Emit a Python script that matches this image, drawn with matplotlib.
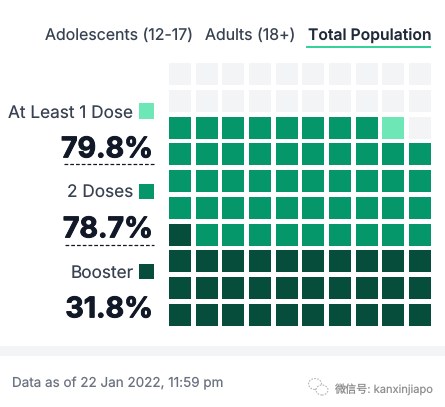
import matplotlib
matplotlib.use("Agg")
import matplotlib.pyplot as plt
import matplotlib.patheffects as pe
from matplotlib.patches import Rectangle, Ellipse

W, H = 445, 407
tabs = ["Adolescents (12-17)", "Adults (18+)", "Total Population"]
labels = ["At Least 1 Dose", "2 Doses", "Booster"]
values = [79.8, 78.7, 31.8]
colors = ["#6ee7b7", "#059669", "#064e3b"]
footer = "Data as of 22 Jan 2022, 11:59 pm"
watermark = "微信号: kanxinjiapo"
EMPTY = "#f3f4f6"
INK = "#374151"
DARK = "#111827"

plt.rcParams["font.family"] = ["Inter", "Noto Sans CJK SC", "DejaVu Sans"]
plt.rcParams["text.hinting"] = "no_hinting"
fig = plt.figure(figsize=(W / 100, H / 100), dpi=100)
fig.patch.set_facecolor("white")

def fx(x): return x / W
def fy(y): return 1 - y / H

def px_axes(l, t, r, b):
    return fig.add_axes([fx(l), fy(b), (r - l) / W, (b - t) / H])

# waffle grid: 10 x 10 cells, filled from the bottom row upward
pitch = 26.67
cell = 22.0 / pitch
ax = px_axes(169, 63, 431, 326)
ax.set_xlim(0, 9 + cell)
ax.set_ylim(0, 9 + cell)
ax.axis("off")
for i in range(100):
    row, col = divmod(i, 10)
    color = EMPTY
    for v, c in zip(values, colors):   # later (smaller) series paint over earlier
        if i < int(v):
            color = c
    ax.add_patch(Rectangle((col, row), cell, cell, facecolor=color, edgecolor="none", clip_on=False))

# tabs
tab_x = [45, 205, 308.5]
tab_size = [11.45, 11.45, 11.3]
for k, (t, x, s) in enumerate(zip(tabs, tab_x, tab_size)):
    active = k == 2
    fig.text(fx(x), fy(33.5), t, fontsize=s, color=INK if not active else "#1f2937",
             fontweight="semibold" if active else "normal", ha="left", va="center_baseline")
fig.add_artist(Rectangle((fx(306), fy(48)), 125 / W, 2.5 / H, transform=fig.transFigure,
                         facecolor="#34d399", edgecolor="none"))

# left legend column
label_y = [111, 191, 271]
value_y = [147, 227, 307]
for lab, val, col, ly, vy in zip(labels, values, colors, label_y, value_y):
    fig.text(fx(133.5), fy(ly), lab, fontsize=12.4, color=INK, ha="right", va="center_baseline")
    fig.add_artist(Rectangle((fx(139), fy(ly + 7.5)), 15 / W, 15 / H, transform=fig.transFigure,
                             facecolor=col, edgecolor="none"))
    t = fig.text(fx(153), fy(vy), f"{val}%", fontsize=20.5, color=DARK, fontweight="bold",
                 ha="right", va="center_baseline")
    t.set_path_effects([pe.withStroke(linewidth=0.7, foreground=DARK)])

# dashed separators
for y, x0 in zip([164.5, 244.5], [64, 65]):
    fig.add_artist(plt.Line2D([fx(x0), fx(154)], [fy(y), fy(y)], transform=fig.transFigure,
                              color="#111827", lw=0.9, dashes=(3, 1.6)))

# footer band and note
fig.add_artist(Rectangle((0, fy(356)), 1, 10 / H, transform=fig.transFigure,
                         facecolor=EMPTY, edgecolor="none"))
fig.text(fx(11.5), fy(382), footer, fontsize=9.7, color="#6b7280", ha="left", va="center_baseline")

# watermark
for (x, y, w, h) in [(315, 384, 13, 11), (322, 390, 12, 10)]:
    fig.add_artist(Ellipse((fx(x), fy(y)), w / W, h / H, transform=fig.transFigure,
                           facecolor="white", edgecolor="#b5b5b5", lw=0.8, linestyle=(0, (1.5, 1.2))))
fig.text(fx(334), fy(387.5), watermark, fontsize=8.0, color="#8f8f8f", ha="left", va="center_baseline")

fig.savefig("out.png", dpi=100, facecolor="white")
